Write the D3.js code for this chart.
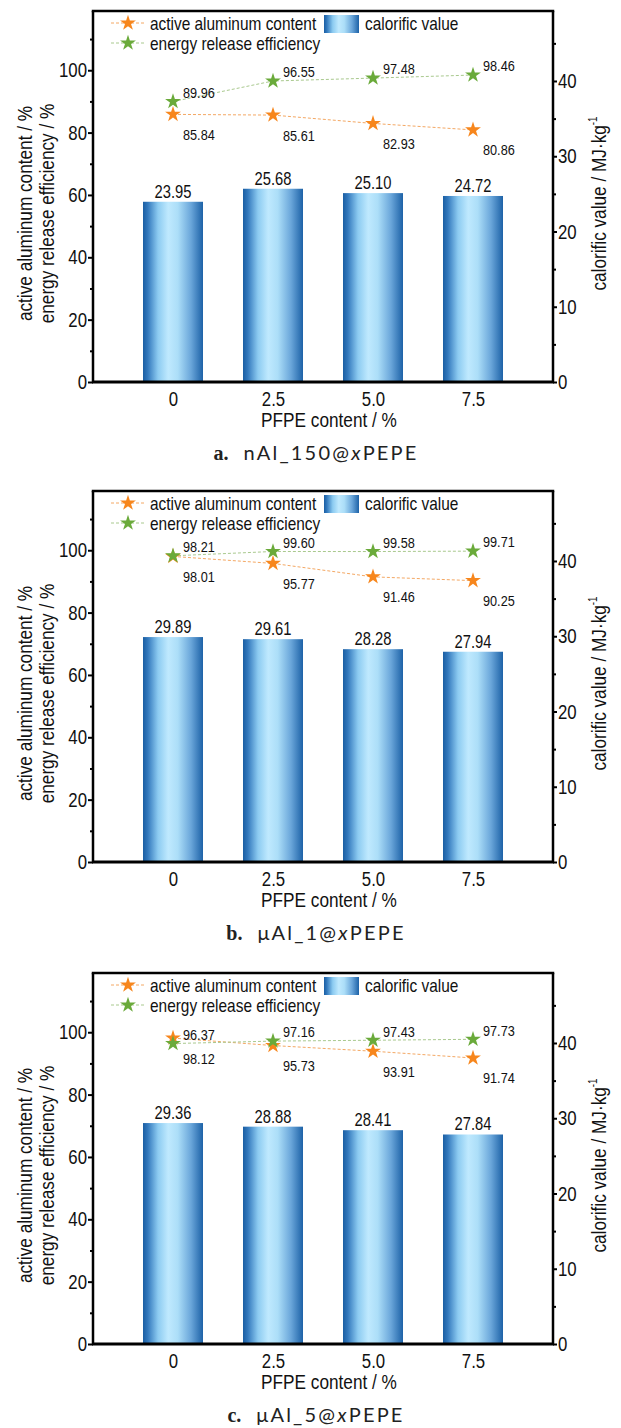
<!DOCTYPE html>
<html><head><meta charset="utf-8">
<script src="https://cdn.jsdelivr.net/npm/d3@7"></script>
<style>body{margin:0;background:#fff}svg{display:block}</style>
</head><body>
<svg id="c" width="621" height="1428"></svg>
<script>
// ---------- data ----------
const categories = ["0", "2.5", "5.0", "7.5"];

const activeA = [85.84, 85.61, 82.93, 80.86];
const energyA = [89.96, 96.55, 97.48, 98.46];
const calorificA = [23.95, 25.68, 25.10, 24.72];

const activeB = [98.01, 95.77, 91.46, 90.25];
const energyB = [98.21, 99.60, 99.58, 99.71];
const calorificB = [29.89, 29.61, 28.28, 27.94];

const activeC = [98.12, 95.73, 93.91, 91.74];
const energyC = [96.37, 97.16, 97.43, 97.73];
const calorificC = [29.36, 28.88, 28.41, 27.84];

const leftTicks = [0, 20, 40, 60, 80, 100];
const leftMinor = [10, 30, 50, 70, 90, 110];
const rightTicks = [0, 10, 20, 30, 40];
const rightMinor = [5, 15, 25, 35, 45];

const captionA = ["a.", "nAl_150@", "x", "PEPE"];
const captionB = ["b.", "\u03bcAl_1@", "x", "PEPE"];
const captionC = ["c.", "\u03bcAl_5@", "x", "PEPE"];

// ---------- drawing ----------
const svg = d3.select("#c");
const FONT = "'Liberation Sans', Arial, Helvetica, sans-serif";
const SX = 0.82;
const ORANGE = "#f7861c", GREEN = "#6aaa3a";
const ORANGE_L = "#f4a864", GREEN_L = "#a9c98e";

const defs = svg.append("defs");
const grad = defs.append("linearGradient").attr("id", "barGrad")
  .attr("x1", "0").attr("x2", "1").attr("y1", "0").attr("y2", "0");
[[0, "#1a5ea3"], [0.08, "#3379bd"], [0.25, "#8ccbf1"], [0.42, "#bfe9fe"],
 [0.58, "#acdef8"], [0.8, "#6aa6da"], [1, "#1d62a7"]].forEach(([o, c]) =>
  grad.append("stop").attr("offset", o).attr("stop-color", c));

function label(g, x, y, str, size, anchor, rot) {
  return g.append("text")
    .attr("transform", `translate(${x},${y})${rot ? " rotate(-90)" : ""} scale(${SX},1)`)
    .attr("text-anchor", anchor).attr("font-size", size)
    .attr("font-family", FONT).attr("fill", "#111").text(str);
}

const xLeft = 93, xRight = 553, PH = 371;
const star = d3.symbol().type(d3.symbolStar).size(78);

function panel(top, active, energy, cal, caption) {
  const bottom = top + PH;
  const g = svg.append("g");
  const x = d3.scalePoint().domain(categories).range([xLeft, xRight]).padding(0.8);
  const yL = d3.scaleLinear().domain([0, 119]).range([bottom, top]);
  const yR = d3.scaleLinear().domain([0, 49.3]).range([bottom, top]);

  // bars
  g.selectAll("rect.bar").data(cal).join("rect").attr("class", "bar")
    .attr("x", (d, i) => x(categories[i]) - 30).attr("width", 60)
    .attr("y", d => yR(d)).attr("height", d => bottom - yR(d))
    .attr("fill", "url(#barGrad)");
  cal.forEach((v, i) => label(g, x(categories[i]), yR(v) - 4, v.toFixed(2), 18, "middle"));

  // lines
  const line = d3.line().x((d, i) => x(categories[i])).y(d => yL(d));
  g.append("path").datum(active).attr("d", line).attr("fill", "none")
    .attr("stroke", ORANGE_L).attr("stroke-width", 1).attr("stroke-dasharray", "3,2");
  g.append("path").datum(energy).attr("d", line).attr("fill", "none")
    .attr("stroke", GREEN_L).attr("stroke-width", 1).attr("stroke-dasharray", "3,2");
  active.forEach((v, i) => g.append("path").attr("d", star)
    .attr("transform", `translate(${x(categories[i])},${yL(v)})`).attr("fill", ORANGE));
  energy.forEach((v, i) => g.append("path").attr("d", star)
    .attr("transform", `translate(${x(categories[i])},${yL(v)})`).attr("fill", GREEN));
  energy.forEach((v, i) => label(g, x(categories[i]) + 10, yL(v) - 3.7, v.toFixed(2), 15.5, "start"));
  active.forEach((v, i) => label(g, x(categories[i]) + 10, yL(v) + 25.5, v.toFixed(2), 15.5, "start"));

  // legend
  const ly1 = top + 12, ly2 = top + 32;
  [[ly1, ORANGE, ORANGE_L, "active aluminum content"], [ly2, GREEN, GREEN_L, "energy release efficiency"]]
    .forEach(([ly, c, cl, t]) => {
      g.append("line").attr("x1", 111).attr("x2", 146).attr("y1", ly).attr("y2", ly)
        .attr("stroke", cl).attr("stroke-width", 1).attr("stroke-dasharray", "3,2");
      g.append("path").attr("d", star).attr("transform", `translate(128,${ly})`).attr("fill", c);
      label(g, 150, ly + 6.5, t, 18.8, "start");
    });
  g.append("rect").attr("x", 324).attr("y", top + 4).attr("width", 35).attr("height", 18)
    .attr("fill", "url(#barGrad)");
  label(g, 365, ly1 + 6.5, "calorific value", 18.8, "start");

  // axes
  const la = g.append("g").attr("transform", `translate(${xLeft},0)`)
    .call(d3.axisLeft(yL).tickValues(leftTicks).tickSize(5).tickSizeOuter(0).tickPadding(0));
  la.select(".domain").attr("stroke-width", 2.5).attr("stroke", "#000")
    .attr("d", `M0,${top}V${bottom}`);
  la.selectAll(".tick line").attr("stroke-width", 2);
  la.selectAll(".tick text").attr("font-size", 20.5).attr("font-family", FONT).attr("fill", "#111")
    .attr("x", -6 / SX).attr("transform", `scale(${SX},1)`);
  g.append("g").attr("transform", `translate(${xLeft},0)`)
    .call(d3.axisLeft(yL).tickValues(leftMinor).tickSize(3).tickFormat(""))
    .call(s => s.select(".domain").remove())
    .selectAll(".tick line").attr("stroke-width", 2);

  const ra = g.append("g").attr("transform", `translate(${xRight},0)`)
    .call(d3.axisRight(yR).tickValues(rightTicks).tickSize(4).tickSizeOuter(0).tickPadding(0));
  ra.select(".domain").attr("stroke-width", 2.5).attr("stroke", "#000")
    .attr("d", `M0,${top}V${bottom}`);
  ra.selectAll(".tick line").attr("stroke-width", 2);
  ra.selectAll(".tick text").attr("font-size", 20.5).attr("font-family", FONT).attr("fill", "#111")
    .attr("x", 5 / SX).attr("transform", `scale(${SX},1)`);
  g.append("g").attr("transform", `translate(${xRight},0)`)
    .call(d3.axisRight(yR).tickValues(rightMinor).tickSize(3).tickFormat(""))
    .call(s => s.select(".domain").remove())
    .selectAll(".tick line").attr("stroke-width", 2);

  const ba = g.append("g").attr("transform", `translate(0,${bottom})`)
    .call(d3.axisBottom(x).tickSize(0).tickSizeOuter(0).tickPadding(9));
  ba.select(".domain").attr("stroke-width", 3).attr("stroke", "#000")
    .attr("d", `M${xLeft - 1},0H${xRight + 1}`);
  ba.selectAll(".tick text").attr("font-size", 20.5).attr("font-family", FONT).attr("fill", "#111")
    .attr("transform", `scale(${SX},1)`);

  // top frame line
  g.append("line").attr("x1", xLeft - 1.25).attr("x2", xRight + 1.25).attr("y1", top).attr("y2", top)
    .attr("stroke", "#000").attr("stroke-width", 2.5);

  // axis titles
  label(g, 329, bottom + 45, "PFPE content / %", 21, "middle");
  const cy = (top + bottom) / 2 + 17;
  label(g, 32, cy, "active aluminum content / %", 21, "middle", true);
  label(g, 54, cy, "energy release efficiency / %", 21, "middle", true);
  const rt = label(g, 606, (top + bottom) / 2 + 7, "calorific value / MJ\u00b7kg", 21, "middle", true);
  rt.append("tspan").attr("font-size", 12).attr("dy", -9).text("-1");

  // caption
  const cap = g.append("text").attr("x", 316).attr("y", bottom + 78)
    .attr("text-anchor", "middle").attr("fill", "#222");
  cap.append("tspan").attr("font-family", "'Liberation Serif', serif").attr("font-weight", "bold")
    .attr("font-size", 20).text(caption[0]);
  cap.append("tspan").attr("dx", 15).attr("font-family", "Lato, 'Open Sans', sans-serif")
    .attr("font-size", 20).attr("letter-spacing", 2.2).text(caption[1]);
  cap.append("tspan").attr("font-family", "Lato, 'Open Sans', sans-serif").attr("font-style", "italic")
    .attr("font-size", 20).attr("letter-spacing", 2.2).text(caption[2]);
  cap.append("tspan").attr("font-family", "Lato, 'Open Sans', sans-serif")
    .attr("font-size", 20).attr("letter-spacing", 2.2).text(caption[3]);
}

panel(11, activeA, energyA, calorificA, captionA);
panel(491, activeB, energyB, calorificB, captionB);
panel(973, activeC, energyC, calorificC, captionC);
</script>
</body></html>
